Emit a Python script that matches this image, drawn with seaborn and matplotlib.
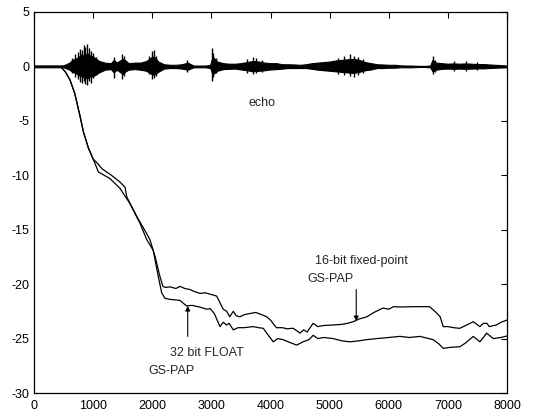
import numpy as np
import pandas as pd
import matplotlib
matplotlib.use("Agg")
import matplotlib.pyplot as plt
import seaborn as sns

# ---------------- data ----------------
# shared start of both learning curves
x_common = [0, 450, 530, 610, 690, 780, 835, 920, 1000]
y_common = [0, 0, -0.5, -1.25, -2.5, -4.6, -6.0, -7.5, -8.5]

# 16-bit fixed-point GS-PAP (upper curve)
x_fixed = [1090, 1150, 1310, 1450, 1540, 1570, 1740, 1900, 1960, 2050, 2130, 2180,
           2220, 2300, 2400, 2470, 2550, 2640, 2720, 2810, 2900, 3030, 3090, 3145,
           3200, 3260, 3310, 3370, 3420, 3480, 3560, 3650, 3750, 3850, 3935, 4000,
           4100, 4200, 4280, 4380, 4450, 4500, 4560, 4620, 4720, 4800, 4900, 5060,
           5200, 5300, 5400, 5500, 5630, 5750, 5900, 6000, 6080, 6200, 6400, 6690,
           6800, 6870, 6920, 7000, 7100, 7200, 7300, 7430, 7540, 7600, 7660, 7700,
           7820, 7900, 8000]
y_fixed = [-9.0, -9.4, -10.0, -10.6, -11.1, -12.0, -13.8, -15.3, -15.9, -17.5, -19.3, -20.2,
           -20.3, -20.25, -20.4, -20.2, -20.4, -20.5, -20.7, -20.85, -20.8, -21.0, -21.1, -21.7,
           -22.3, -22.5, -23.0, -22.5, -22.9, -23.0, -22.8, -22.7, -22.6, -22.8, -23.0, -23.3,
           -24.0, -24.0, -24.1, -24.05, -24.3, -24.5, -24.2, -24.4, -23.6, -23.9, -23.8, -23.75,
           -23.7, -23.6, -23.45, -23.2, -23.0, -22.6, -22.2, -22.3, -22.07, -22.1, -22.07, -22.07,
           -22.6, -23.0, -23.9, -23.9, -24.0, -24.06, -23.8, -23.45, -23.9, -23.6, -23.6, -23.9,
           -23.75, -23.5, -23.3]

# 32 bit FLOAT GS-PAP (lower curve)
x_float = [1090, 1285, 1454, 1623, 1792, 1906, 2017, 2102, 2160, 2215, 2300, 2400,
           2470, 2580, 2670, 2800, 2920, 2980, 3050, 3145, 3200, 3258, 3300, 3370,
           3450, 3550, 3709, 3800, 3878, 3950, 4047, 4120, 4216, 4300, 4442, 4550,
           4650, 4723, 4800, 4900, 5061, 5200, 5344, 5500, 5626, 5800, 6000, 6189,
           6350, 6527, 6752, 6850, 6921, 7050, 7204, 7300, 7429, 7542, 7600, 7655,
           7768, 7900, 8000]
y_float = [-9.7, -10.3, -11.2, -12.6, -14.4, -15.9, -16.9, -19.3, -20.8, -21.3, -21.4, -21.45,
           -21.5, -22.0, -21.95, -22.1, -22.3, -22.25, -22.7, -23.9, -23.5, -23.75, -23.6, -24.2,
           -24.0, -24.0, -23.9, -24.0, -24.06, -24.6, -25.3, -25.0, -25.1, -25.3, -25.6, -25.3,
           -25.1, -24.7, -25.0, -24.9, -25.0, -25.2, -25.3, -25.2, -25.1, -25.0, -24.9, -24.8,
           -24.9, -24.8, -25.1, -25.5, -25.9, -25.8, -25.75, -25.4, -24.8, -25.3, -24.9, -24.5,
           -25.0, -24.9, -24.76]

# echo signal: dense core envelope (positive / negative magnitude)
x_echo = [0, 100, 200, 300, 400, 500, 600, 650, 700, 750, 800, 850, 900, 950, 1000,
          1100, 1200, 1300, 1350, 1400, 1500, 1550, 1600, 1700, 1800, 1900, 2000,
          2050, 2100, 2200, 2300, 2400, 2500, 2600, 2700, 2800, 2900, 2980, 3020,
          3100, 3200, 3300, 3400, 3500, 3600, 3700, 3800, 3900, 4000, 4100, 4200,
          4300, 4400, 4500, 4600, 4700, 4800, 4900, 5000, 5100, 5200, 5300, 5400,
          5500, 5600, 5700, 5800, 5900, 6000, 6100, 6200, 6300, 6400, 6500, 6600,
          6700, 6740, 6800, 6900, 7000, 7100, 7200, 7300, 7400, 7500, 7600, 7700,
          7800, 7900, 8000]
echo_up = [0.08, 0.08, 0.08, 0.08, 0.08, 0.1, 0.35, 0.6, 0.7, 0.85, 1.1, 1.0, 1.2, 1.0, 0.9,
           0.5, 0.35, 0.3, 0.6, 0.35, 0.7, 0.55, 0.3, 0.35, 0.35, 0.5, 0.9,
           0.8, 0.45, 0.2, 0.15, 0.15, 0.2, 0.35, 0.08, 0.08, 0.08, 0.15, 0.9,
           0.45, 0.3, 0.25, 0.25, 0.3, 0.4, 0.5, 0.45, 0.35, 0.3, 0.3, 0.2,
           0.2, 0.18, 0.15, 0.2, 0.3, 0.35, 0.4, 0.45, 0.55, 0.6, 0.65, 0.7,
           0.6, 0.4, 0.3, 0.2, 0.18, 0.15, 0.15, 0.1, 0.08, 0.08, 0.05, 0.05,
           0.08, 0.6, 0.35, 0.3, 0.25, 0.28, 0.25, 0.28, 0.25, 0.22, 0.22, 0.18,
           0.15, 0.12, 0.08]
echo_low = [0.08, 0.08, 0.08, 0.08, 0.08, 0.08, 0.3, 0.5, 0.6, 0.8, 0.9, 1.0, 1.1, 0.9, 0.9,
            0.55, 0.3, 0.25, 0.55, 0.3, 0.7, 0.45, 0.3, 0.25, 0.3, 0.4, 0.75,
            0.7, 0.5, 0.2, 0.15, 0.15, 0.2, 0.3, 0.08, 0.08, 0.08, 0.15, 0.75,
            0.4, 0.25, 0.22, 0.2, 0.28, 0.35, 0.45, 0.4, 0.35, 0.28, 0.25, 0.2,
            0.15, 0.15, 0.15, 0.15, 0.22, 0.3, 0.35, 0.4, 0.45, 0.5, 0.55, 0.6,
            0.5, 0.35, 0.28, 0.15, 0.15, 0.12, 0.12, 0.08, 0.08, 0.08, 0.05, 0.05,
            0.08, 0.45, 0.3, 0.22, 0.2, 0.22, 0.2, 0.22, 0.2, 0.18, 0.18, 0.15,
            0.12, 0.1, 0.08]

# echo signal: individual tall spikes
spike_x = [650, 700, 740, 780, 810, 840, 870, 900, 930, 960, 1000, 1050, 1350, 1480,
           1520, 1950, 1990, 2030, 2070, 2580, 3010, 3030, 3080, 3600, 3700, 3760,
           3850, 5150, 5250, 5350, 5420, 5480, 5560, 6740, 6780, 7100, 7300, 7500]
spike_up = [0.8, 1.1, 1.3, 1.6, 1.5, 2.0, 1.8, 2.1, 1.7, 1.4, 1.2, 0.9, 0.9, 1.1,
            1.0, 1.0, 1.4, 1.5, 1.0, 0.6, 1.7, 1.2, 0.8, 0.7, 0.9, 0.8,
            0.6, 0.8, 1.0, 1.1, 1.0, 0.9, 0.7, 1.0, 0.6, 0.5, 0.5, 0.45]
spike_low = [0.6, 1.0, 1.2, 1.4, 1.5, 1.3, 1.6, 1.7, 1.3, 1.5, 1.1, 0.8, 1.1, 1.2,
             0.9, 0.7, 1.2, 1.1, 0.9, 0.5, 1.3, 1.0, 0.6, 0.6, 0.7, 0.6,
             0.5, 0.7, 0.8, 0.9, 1.0, 0.8, 0.6, 0.7, 0.5, 0.4, 0.4, 0.35]

x_ticks = [0, 1000, 2000, 3000, 4000, 5000, 6000, 7000, 8000]
y_ticks = [-30, -25, -20, -15, -10, -5, 0, 5]

# ---------------- plotting ----------------
sns.set_style("white")
plt.rcParams['font.family'] = ['Liberation Sans', 'DejaVu Sans']
plt.rcParams['xtick.direction'] = 'in'
plt.rcParams['ytick.direction'] = 'in'

fig = plt.figure(figsize=(5.36, 4.19), dpi=100)
ax = fig.add_axes([34 / 536, 1 - 393 / 419, 473 / 536, 381 / 419])

df_fixed = pd.DataFrame({"x": x_common + x_fixed, "y": y_common + y_fixed})
df_float = pd.DataFrame({"x": x_common + x_float, "y": y_common + y_float})

xe = np.array(x_echo)
ax.fill_between(xe, -np.array(echo_low), np.array(echo_up), color="black", linewidth=0.8)
ax.vlines(spike_x, -np.array(spike_low), np.array(spike_up), color="black", linewidth=1.0)

sns.lineplot(data=df_fixed, x="x", y="y", ax=ax, color="black", linewidth=0.9, sort=False)
sns.lineplot(data=df_float, x="x", y="y", ax=ax, color="black", linewidth=0.9, sort=False)

ax.set_xlim(0, 8000)
ax.set_ylim(-30, 5)
ax.set_xticks(x_ticks)
ax.set_yticks(y_ticks)
ax.set_xticklabels([str(v) for v in x_ticks])
ax.set_yticklabels([str(v) for v in y_ticks])
ax.set_xlabel("")
ax.set_ylabel("")
ax.tick_params(axis="both", which="both", direction="in", length=4, width=0.8,
               top=True, right=True, labelsize=9, colors="black")
ax.tick_params(axis="x", pad=5)
ax.tick_params(axis="y", pad=3)
for s in ax.spines.values():
    s.set_visible(True)
    s.set_color("black")
    s.set_linewidth(0.9)

ax.text(3855, -3.4, "echo", fontsize=9, ha="center", va="center")
ax.text(4752, -17.9, "16-bit fixed-point", fontsize=9, ha="left", va="center")
ax.text(4616, -19.5, "GS-PAP", fontsize=9, ha="left", va="center")
ax.text(2300, -26.3, "32 bit FLOAT", fontsize=9, ha="left", va="center")
ax.text(1930, -28.0, "GS-PAP", fontsize=9, ha="left", va="center")

ax.annotate("", xy=(5450, -23.4), xytext=(5450, -20.5),
            arrowprops=dict(arrowstyle="-|>", color="black", lw=0.8,
                            mutation_scale=7, shrinkA=0, shrinkB=0))
ax.annotate("", xy=(2600, -22.0), xytext=(2600, -24.8),
            arrowprops=dict(arrowstyle="-|>", color="black", lw=0.8,
                            mutation_scale=7, shrinkA=0, shrinkB=0))

fig.savefig("out.png", dpi=100, facecolor="white")
